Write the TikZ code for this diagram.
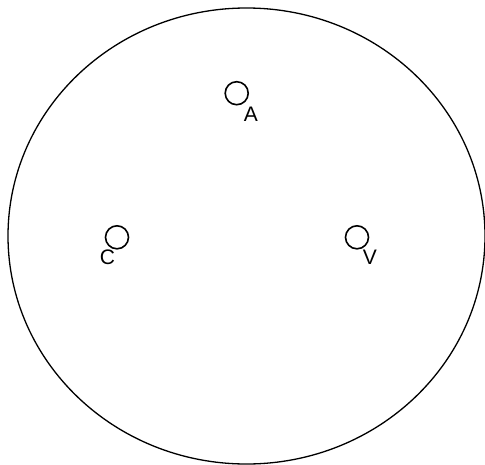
\documentclass[tikz,border=0pt]{standalone}
\usepackage{fontspec}
\setmainfont{Liberation Sans}
\usetikzlibrary{positioning}
\tikzset{
  site/.style={
    draw,
    circle,
    line width=1.6pt,
    minimum size=23pt,
    inner sep=0pt
  },
  sitelabel/.style={
    font=\fontsize{21}{21}\selectfont,
    inner sep=0pt
  },
  boundary/.style={
    line width=1.3pt
  }
}
\begin{document}
\begin{tikzpicture}[x=1pt, y=-1pt]
  \useasboundingbox (0,0) rectangle (485,464);
  \draw[boundary] (246.5,236) ellipse [x radius=238.5, y radius=228];

  \node[site] (a) at (236.7,93.2) {};
  \node[site] (c) at (117,237.3) {};
  \node[site] (v) at (357,237.3) {};

  % letters below right / below left of each site
  \node[sitelabel] (alab) at (251,114) {A};
  \node[sitelabel] (clab) at (107.5,257) {C};
  \node[sitelabel] (vlab) at (370,257) {V};
\end{tikzpicture}
\end{document}
